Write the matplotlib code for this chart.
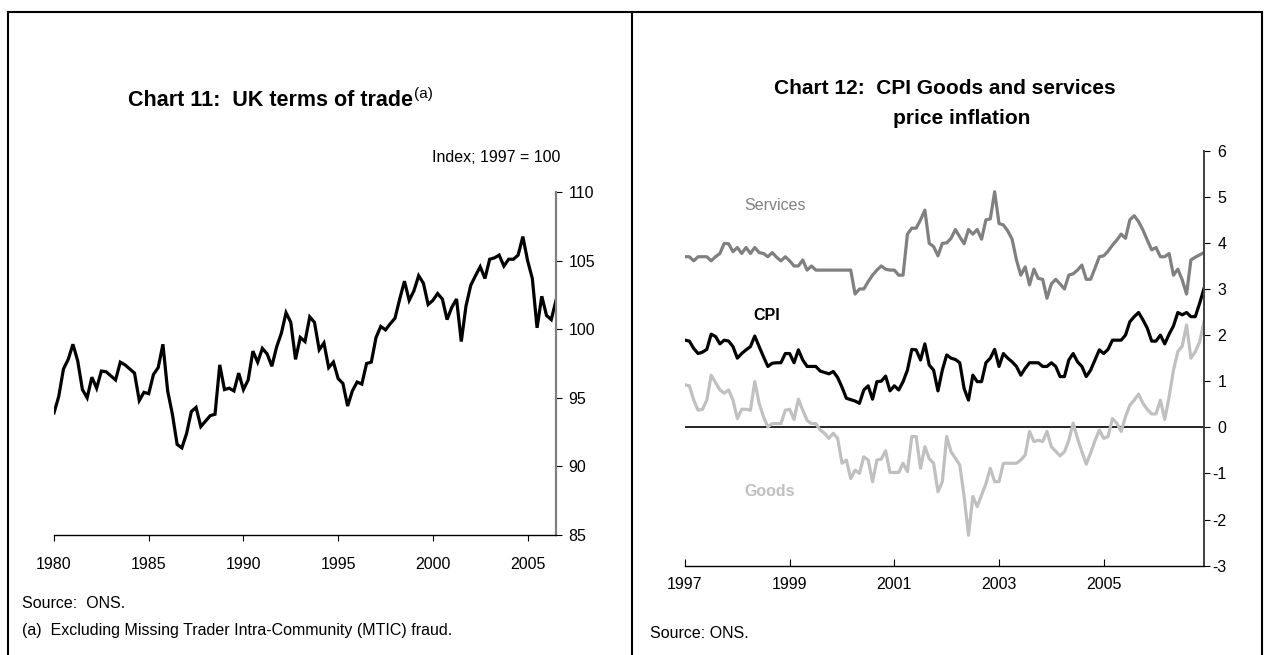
import numpy as np
import matplotlib.pyplot as plt
from matplotlib.lines import Line2D

plt.rcParams['font.family'] = ['Liberation Sans', 'DejaVu Sans']
plt.rcParams['axes.unicode_minus'] = False

# Chart 11: UK terms of trade, quarterly from 1980 Q1 (index, 1997 = 100)
terms_of_trade = [
    93.9, 95.1, 97.1, 97.8, 98.9, 97.7, 95.6, 95.0, 96.5, 95.7,
    96.95, 96.9, 96.6, 96.3, 97.6, 97.4, 97.1, 96.8, 94.8, 95.4,
    95.3, 96.7, 97.2, 98.9, 95.5, 93.8, 91.6, 91.35, 92.4, 94.0,
    94.3, 92.9, 93.3, 93.7, 93.8, 97.4, 95.6, 95.7, 95.5, 96.8,
    95.6, 96.3, 98.4, 97.6, 98.6, 98.2, 97.3, 98.7, 99.7, 101.2,
    100.5, 97.8, 99.4, 99.1, 100.9, 100.5, 98.5, 99.0, 97.2, 97.6,
    96.4, 96.05, 94.4, 95.5, 96.15, 96.0, 97.5, 97.6, 99.4, 100.2,
    99.95, 100.4, 100.8, 102.2, 103.5, 102.1, 102.8, 103.9, 103.35, 101.8,
    102.1, 102.6, 102.2, 100.7, 101.6, 102.2, 99.1, 101.7, 103.2, 103.9,
    104.55, 103.7, 105.1, 105.2, 105.4, 104.6, 105.1, 105.1, 105.4, 106.75,
    105.0, 103.7, 100.1, 102.4, 101.0, 100.7, 102.1,
]
tot_years = 1980 + np.arange(len(terms_of_trade)) / 4.0
tot_ticks = [1980, 1985, 1990, 1995, 2000, 2005]
tot_yticks = [85, 90, 95, 100, 105, 110]

# Chart 12: CPI inflation, monthly from Jan 1997 (per cent)
services = [
    3.70, 3.70, 3.61, 3.70, 3.70, 3.70, 3.61, 3.70, 3.77, 3.99,
    3.98, 3.81, 3.90, 3.77, 3.90, 3.77, 3.90, 3.79, 3.77, 3.70,
    3.79, 3.69, 3.61, 3.70, 3.61, 3.50, 3.50, 3.63, 3.41, 3.50,
    3.41, 3.41, 3.41, 3.41, 3.41, 3.41, 3.41, 3.41, 3.41, 2.89,
    3.00, 3.00, 3.16, 3.30, 3.41, 3.50, 3.43, 3.41, 3.41, 3.30,
    3.30, 4.19, 4.32, 4.32, 4.50, 4.71, 3.99, 3.92, 3.72, 3.99,
    4.00, 4.10, 4.29, 4.13, 3.98, 4.29, 4.19, 4.29, 4.08, 4.50,
    4.52, 5.11, 4.42, 4.39, 4.26, 4.08, 3.63, 3.30, 3.48, 3.09,
    3.43, 3.23, 3.21, 2.80, 3.11, 3.21, 3.11, 3.00, 3.30, 3.33,
    3.41, 3.52, 3.21, 3.21, 3.45, 3.70, 3.72, 3.82, 3.95, 4.06,
    4.19, 4.10, 4.50, 4.59, 4.46, 4.28, 4.06, 3.85, 3.90, 3.70,
    3.70, 3.77, 3.30, 3.43, 3.20, 2.89, 3.63, 3.69, 3.74, 3.79,
]
cpi = [
    1.89, 1.87, 1.71, 1.60, 1.63, 1.69, 2.02, 1.97, 1.81, 1.89,
    1.87, 1.75, 1.50, 1.60, 1.68, 1.75, 1.98, 1.75, 1.53, 1.32,
    1.39, 1.40, 1.40, 1.60, 1.60, 1.40, 1.68, 1.46, 1.32, 1.32,
    1.32, 1.22, 1.19, 1.16, 1.21, 1.08, 0.87, 0.63, 0.60, 0.57,
    0.52, 0.81, 0.90, 0.61, 0.99, 1.00, 1.11, 0.79, 0.90, 0.81,
    0.99, 1.24, 1.69, 1.68, 1.46, 1.81, 1.35, 1.24, 0.79, 1.24,
    1.57, 1.50, 1.47, 1.40, 0.84, 0.59, 1.13, 0.99, 0.99, 1.40,
    1.50, 1.69, 1.32, 1.60, 1.50, 1.42, 1.32, 1.13, 1.28, 1.40,
    1.40, 1.40, 1.32, 1.32, 1.40, 1.32, 1.10, 1.10, 1.46, 1.60,
    1.42, 1.32, 1.10, 1.24, 1.46, 1.68, 1.60, 1.69, 1.89, 1.89,
    1.89, 2.00, 2.29, 2.40, 2.49, 2.33, 2.15, 1.87, 1.87, 2.00,
    1.81, 2.02, 2.20, 2.49, 2.44, 2.49, 2.40, 2.40, 2.69, 3.01,
]
goods = [
    0.92, 0.90, 0.59, 0.37, 0.39, 0.59, 1.13, 0.97, 0.81, 0.74,
    0.81, 0.59, 0.19, 0.39, 0.39, 0.37, 0.99, 0.52, 0.23, 0.01,
    0.08, 0.08, 0.08, 0.37, 0.39, 0.17, 0.61, 0.37, 0.15, 0.08,
    0.08, -0.06, -0.13, -0.24, -0.13, -0.24, -0.78, -0.71, -1.11, -0.93,
    -1.00, -0.64, -0.71, -1.18, -0.71, -0.69, -0.51, -0.98, -0.98, -0.98,
    -0.78, -0.96, -0.20, -0.20, -0.89, -0.42, -0.68, -0.78, -1.40, -1.18,
    -0.20, -0.53, -0.67, -0.82, -1.50, -2.34, -1.50, -1.72, -1.47, -1.22,
    -0.89, -1.18, -1.18, -0.78, -0.78, -0.78, -0.78, -0.71, -0.60, -0.09,
    -0.31, -0.28, -0.31, -0.09, -0.42, -0.52, -0.62, -0.53, -0.28, 0.09,
    -0.24, -0.53, -0.80, -0.56, -0.29, -0.06, -0.24, -0.20, 0.19, 0.09,
    -0.09, 0.23, 0.48, 0.59, 0.72, 0.52, 0.39, 0.29, 0.29, 0.59,
    0.17, 0.66, 1.24, 1.64, 1.76, 2.22, 1.50, 1.64, 1.85, 2.29,
]
months = np.arange(len(cpi))
cpi_tick_labels = ['1997', '1999', '2001', '2003', '2005']
cpi_yticks = list(range(-3, 7))

fig = plt.figure(figsize=(12.65, 6.55), dpi=100)
W, H = 1265.0, 655.0

# outer frame and divider
for xs, ys in [([8, 1262], [12, 12]), ([8, 8], [12, 655]),
               ([1262, 1262], [12, 655]), ([632, 632], [12, 655])]:
    fig.add_artist(Line2D([x / W for x in xs], [1 - y / H for y in ys],
                          transform=fig.transFigure, color='black', lw=1.5))

# ---- Chart 11 ----
ax1 = fig.add_axes([54 / W, 1 - 535 / H, (556 - 54) / W, (535 - 192) / H])
ax1.plot(tot_years, terms_of_trade, color='black', lw=2.3, solid_joinstyle='miter')
ax1.set_xlim(tot_years[0], tot_years[-1])
ax1.set_ylim(85, 110)
ax1.set_xticks(tot_ticks)
ax1.set_yticks(tot_yticks)
ax1.yaxis.tick_right()
for s in ['top', 'left']:
    ax1.spines[s].set_visible(False)
ax1.spines['right'].set_color('#808080')
ax1.spines['right'].set_linewidth(1.6)
ax1.spines['bottom'].set_linewidth(1.0)
ax1.tick_params(axis='x', direction='out', length=4, width=0.8, pad=12, labelsize=11.5)
ax1.tick_params(axis='y', direction='out', length=4, width=0.8, pad=5, labelsize=11.5)

t11 = fig.text(128 / W, 1 - 100 / H, 'Chart 11:  UK terms of trade',
               fontsize=15.5, fontweight='bold', ha='left', va='center')
ax1.annotate('(a)', xy=(1.0, 1.0), xycoords=t11, xytext=(0.5, 1.5),
             textcoords='offset points', ha='left', va='top', fontsize=11,
             annotation_clip=False)
fig.text(560 / W, 1 - 157 / H, 'Index; 1997 = 100', fontsize=11.5, ha='right', va='center')
fig.text(22 / W, 1 - 604 / H, 'Source:  ONS.', fontsize=11.5, ha='left', va='center')
fig.text(22 / W, 1 - 630 / H, '(a)  Excluding Missing Trader Intra-Community (MTIC) fraud.',
         fontsize=11.5, ha='left', va='center')

# ---- Chart 12 ----
ax2 = fig.add_axes([685 / W, 1 - 565.6 / H, 519 / W, (565.6 - 150.7) / H])
ax2.axhline(0, color='black', lw=1.2)
ax2.plot(months, goods, color='#c0c0c0', lw=2.3)
ax2.plot(months, services, color='#808080', lw=2.3)
ax2.plot(months, cpi, color='black', lw=2.3)
ax2.set_xlim(months[0], months[-1])
ax2.set_ylim(-3, 6)
ax2.set_xticks(months[::24])
ax2.set_xticklabels(cpi_tick_labels)
ax2.set_yticks(cpi_yticks)
ax2.set_yticklabels([str(v) for v in cpi_yticks])
ax2.yaxis.tick_right()
for s in ['top', 'left']:
    ax2.spines[s].set_visible(False)
ax2.spines['right'].set_color('#404040')
ax2.spines['right'].set_linewidth(1.4)
ax2.spines['bottom'].set_linewidth(1.0)
ax2.tick_params(axis='x', direction='in', length=5, width=0.8, pad=8, labelsize=11.5)
ax2.tick_params(axis='y', direction='out', length=4, width=0.8, pad=12, labelsize=11.5)
for lbl in ax2.get_yticklabels():
    lbl.set_ha('right')

fig.text(775 / W, 1 - 205 / H, 'Services', fontsize=11.5, color='#808080', ha='center', va='center')
fig.text(767 / W, 1 - 316 / H, 'CPI', fontsize=11.5, fontweight='bold', color='black', ha='center', va='center')
fig.text(770 / W, 1 - 492 / H, 'Goods', fontsize=11.5, fontweight='bold', color='#c0c0c0', ha='center', va='center')

fig.text(945 / W, 1 - 88 / H, 'Chart 12:  CPI Goods and services',
         fontsize=15, fontweight='bold', ha='center', va='center')
fig.text(962 / W, 1 - 118 / H, 'price inflation',
         fontsize=15, fontweight='bold', ha='center', va='center')
fig.text(650 / W, 1 - 633 / H, 'Source: ONS.', fontsize=11.5, ha='left', va='center')

fig.savefig('out.png', dpi=100)
